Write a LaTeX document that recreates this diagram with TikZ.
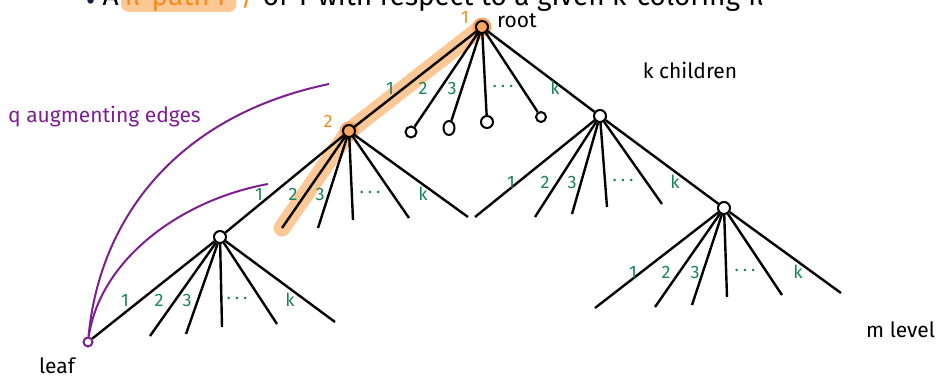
\documentclass[tikz,border=0pt]{standalone}
\usepackage{fontspec}
\usetikzlibrary{shapes.geometric}
\setmainfont{Fira Sans}
\definecolor{hl}{RGB}{252,200,150}
\definecolor{hldark}{RGB}{248,166,98}
\definecolor{orn}{RGB}{246,140,30}
\definecolor{grn}{RGB}{25,130,95}
\definecolor{prp}{RGB}{125,30,145}
\definecolor{bul}{RGB}{20,30,70}
\tikzset{
  edge/.style={line width=2.4pt, black},
  nd/.style={circle, draw=black, line width=2pt, fill=white, minimum size=12pt, inner sep=0pt},
  endc/.style={circle, draw=black, line width=2pt, fill=white, minimum size=11pt, inner sep=0pt},
  lab/.style={text=grn, font=\fontsize{18}{20}\selectfont, inner sep=0pt},
  olab/.style={text=orn, font=\fontsize{18}{20}\selectfont, inner sep=0pt},
  txt/.style={font=\fontsize{21}{24}\selectfont, inner sep=0pt},
  toptxt/.style={font=\fontsize{28}{30}\selectfont, inner sep=0pt, anchor=base west},
  aug/.style={prp, line width=2pt},
}
\newcommand{\dd}{.\hspace{4pt}.\hspace{4pt}.}
\begin{document}
\begin{tikzpicture}[x=1pt, y=-1pt]
\useasboundingbox (0,0) rectangle (945,378);
\clip (0,0) rectangle (945,378);
% top line (cut off)
\node[toptxt] (top1) at (86,5) {\textcolor{bul}{\raisebox{-5pt}{•}}\ A\ };
\node[toptxt, text=orn, fill=hl, rounded corners=8pt, inner xsep=3pt, inner ysep=1pt] (top2) at ([xshift=2pt]top1.base east) {π-path P};
\node[toptxt] (top3) at ([xshift=4pt]top2.base east) {\textcolor{orn}{/}\ of T with respect to a given k-coloring π};
% coordinates
\coordinate (a2) at (282,228);
\coordinate (a3) at (318,228);
\coordinate (a4) at (353,220);
\coordinate (a5) at (409,218);
\coordinate (a6) at (468,217);
\coordinate (b1) at (475,217);
\coordinate (b2) at (535,217);
\coordinate (b3) at (572,214);
\coordinate (b4) at (607,207);
\coordinate (b5) at (662,204);
\coordinate (d1) at (595,308);
\coordinate (d2) at (655,307);
\coordinate (d3) at (692,305);
\coordinate (d4) at (727,297);
\coordinate (d5) at (782,295);
\coordinate (d6) at (841,293);
\coordinate (c2) at (150,336);
\coordinate (c3) at (186,334);
\coordinate (c4) at (222,327);
\coordinate (c5) at (277,324);
\coordinate (c6) at (335,322);
% highlight
\draw[hl, line width=17pt, line cap=round, line join=round] (482,27) -- (349,131) -- (a2);
\fill[hldark] (482,27) circle (9.5);
\fill[hldark] (349,131) circle (9.5);
% nodes
\node[nd, fill=hldark] (r) at (482,27) {};
\node[nd, fill=hldark] (A) at (349,131) {};
\node[nd] (B) at (600,116) {};
\node[nd] (C) at (220,237) {};
\node[nd] (D) at (724,208) {};
\node[endc] (e1) at (411,132) {};
\node[ellipse, draw=black, line width=2pt, fill=white, minimum height=14pt, minimum width=11pt, inner sep=0pt] (e2) at (449,128) {};
\node[endc, minimum size=12pt] (e3) at (487,122) {};
\node[endc, minimum size=10pt] (e4) at (541,117) {};
\node[circle, draw=prp, line width=2pt, fill=white, minimum size=9pt, inner sep=0pt] (leaf) at (88,342) {};
% edges
\draw[edge] (r) -- (A);
\draw[edge] (r) -- (e1);
\draw[edge] (r) -- (e2);
\draw[edge] (r) -- (e3);
\draw[edge] (r) -- (e4);
\draw[edge] (r) -- (B);
\draw[edge] (A) -- (C);
\foreach \p in {a2,a3,a4,a5,a6} \draw[edge] (A) -- (\p);
\foreach \p in {b1,b2,b3,b4,b5} \draw[edge] (B) -- (\p);
\draw[edge] (B) -- (D);
\foreach \p in {d1,d2,d3,d4,d5,d6} \draw[edge] (D) -- (\p);
\draw[edge] (C) -- (leaf);
\foreach \p in {c2,c3,c4,c5,c6} \draw[edge] (C) -- (\p);
% augmenting edges
\coordinate (g1) at (329,84);
\coordinate (g2) at (268,184);
\draw[aug] (leaf) .. controls (100,215) and (180,115) .. (g1);
\draw[aug] (leaf) .. controls (100,260) and (180,200) .. (g2);
% labels root
\node[olab] (lr) at (465,17) {1};
\node[lab] (r1) at (390,88) {1};
\node[lab] (r2) at (423,88) {2};
\node[lab] (r3) at (452,88) {3};
\node[lab] (r4) at (503,86) {\dd};
\node[lab] (r5) at (555,88) {k};
% labels A
\node[olab] (lA) at (328,121) {2};
\node[lab] (A1) at (259,194) {1};
\node[lab] (A2) at (293,194) {2};
\node[lab] (A3) at (320,194) {3};
\node[lab] (A4) at (370,192) {\dd};
\node[lab] (A5) at (423,194) {k};
% labels B
\node[lab] (B1) at (511,182) {1};
\node[lab] (B2) at (545,182) {2};
\node[lab] (B3) at (572,182) {3};
\node[lab] (B4) at (623,180) {\dd};
\node[lab] (B5) at (675,182) {k};
% labels D
\node[lab] (D1) at (633,272) {1};
\node[lab] (D2) at (666,272) {2};
\node[lab] (D3) at (695,272) {3};
\node[lab] (D4) at (745,270) {\dd};
\node[lab] (D5) at (798,272) {k};
% labels C
\node[lab] (C1) at (125,300) {1};
\node[lab] (C2) at (159,300) {2};
\node[lab] (C3) at (187,300) {3};
\node[lab] (C4) at (237,298) {\dd};
\node[lab] (C5) at (290,300) {k};
% texts
\node[txt, anchor=west] (troot) at (497,21) {root};
\node[txt] (tk) at (690,70) {k children};
\node[txt, anchor=west, text=prp] (taug) at (8,117) {q augmenting edges};
\node[txt] (tleaf) at (57,366) {leaf};
\node[txt, anchor=west] (tm) at (866,330) {m level};
\end{tikzpicture}
\end{document}
